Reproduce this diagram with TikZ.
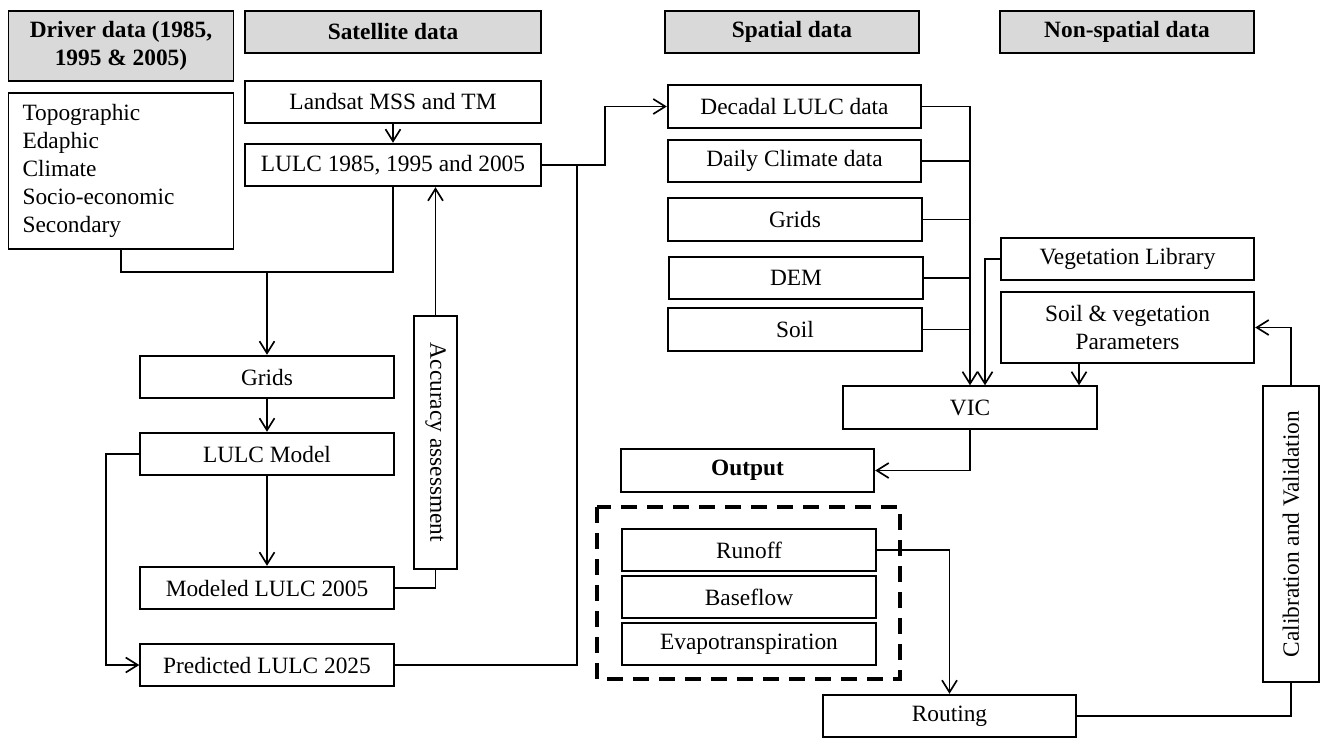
\documentclass[tikz,border=0pt]{standalone}
\usepackage{fontspec}
\setmainfont{Liberation Serif}
\usetikzlibrary{arrows.meta}
\definecolor{headfill}{RGB}{217,217,217}

\begin{document}
\begin{tikzpicture}[x=0.02cm, y=-0.02cm, line width=0.95pt,
    >={Straight Barb[length=2.4mm,width=3mm]},
    every node/.style={font=\fontsize{13.3}{16}\selectfont},
    box/.style={draw,line width=1.1pt,minimum width=5.07cm,minimum height=0.85cm,inner sep=1pt},
    widebox/.style={box,minimum width=5.92cm},
    head/.style={box,fill=headfill,font=\fontsize{13.3}{16}\selectfont\bfseries},
    dashframe/.style={line width=1.8pt,dash pattern=on 0.32cm off 0.2cm}]

    \useasboundingbox (0,0) rectangle (1323,738);

    % column headers
    \node[head,minimum width=4.5cm,minimum height=1.4cm,align=center] (drvhead) at (121,46) {Driver data (1985,\\1995 \& 2005)};
    \node[head,minimum width=5.92cm] (sathead) at (393,32) {Satellite data};
    \node[head] (sphead) at (792,32) {Spatial data};
    \node[head] (nsphead) at (1127,32) {Non-spatial data};

    % land use part
    \node[box,align=left,text width=3.94cm,inner xsep=0.28cm,minimum width=0pt,minimum height=3.12cm] (drivers) at (121,171)
        {Topographic\\Edaphic\\Climate\\Socio-economic\\Secondary};
    \node[widebox] (landsat) at (393,102) {Landsat MSS and TM};
    \node[widebox] (lulc) at (393,165) {LULC 1985, 1995 and 2005};
    \node[box] (grids) at (267,377) {Grids};
    \node[box] (model) at (267,454) {LULC Model};
    \node[box] (modeled) at (267,588) {Modeled LULC 2005};
    \node[box] (predicted) at (267,665) {Predicted LULC 2025};
    \node[box,rotate=-90,minimum width=5.06cm,minimum height=0.86cm] (accuracy) at (435.5,442.5) {Accuracy assessment};
    \coordinate (split) at (267,272);

    % hydrology part
    \node[box] (decadal) at (794.5,106.5) {Decadal LULC data};
    \node[box] (climate) at (794.5,161) {Daily Climate data};
    \node[box] (spgrids) at (795,219.5) {Grids};
    \node[box] (dem) at (796,278) {DEM};
    \node[box] (soil) at (795,329.5) {Soil};
    \node[box] (veglib) at (1127.5,259) {Vegetation Library};
    \node[box,minimum height=1.42cm,align=center] (params) at (1127.5,327.5) {Soil \& vegetation\\Parameters};
    \node[box] (vic) at (970,407.5) {VIC};
    \node[box,font=\fontsize{13.3}{16}\selectfont\bfseries] (output) at (747.5,470.5) {Output};
    \node[box] (runoff) at (749,550) {Runoff};
    \node[box] (baseflow) at (749,597) {Baseflow};
    \node[box] (evapo) at (749,644) {Evapotranspiration};
    \node[box] (routing) at (949.5,716) {Routing};
    \node[box,rotate=90,minimum width=5.92cm,minimum height=1.12cm] (calib) at (1291,534) {Calibration and Validation};
    \draw[dashframe] (597,507) rectangle (900,679);

    \draw[->] (landsat) -- (lulc);
    \draw (drivers.south) |- (split) -| (lulc.south);
    \draw[->] (split) -- (grids);
    \draw[->] (grids) -- (model);
    \draw[->] (model) -- (modeled);
    \draw[->] (model.west) -- ++(-33,0) |- (predicted.west);
    \draw (modeled.east) -| (accuracy.east);
    \draw[->] (accuracy.west) -- (accuracy.west |- lulc.south);
    \draw[->] (lulc.east) -- ++(63,0) |- (decadal.west);
    \draw (predicted.east) -| ([xshift=0.7cm]lulc.east);

    \draw[->] (decadal.east) -| (vic.north);
    \draw (climate.east) -- (climate.east -| vic.north);
    \draw (spgrids.east) -- (spgrids.east -| vic.north);
    \draw (dem.east) -- (dem.east -| vic.north);
    \draw (soil.east) -- (soil.east -| vic.north);
    \draw[->] (veglib.west) -| ([xshift=0.3cm]vic.north);
    \draw[->] ([xshift=-0.97cm]params.south) -- ([xshift=-0.97cm]params.south |- vic.north);
    \draw[->] (vic.south) |- (output.east);
    \draw[->] (runoff.east) -| (routing.north);
    \draw (routing.east) -| (calib.west);
    \draw[->] (calib.east) |- (params.east);
\end{tikzpicture}
\end{document}
